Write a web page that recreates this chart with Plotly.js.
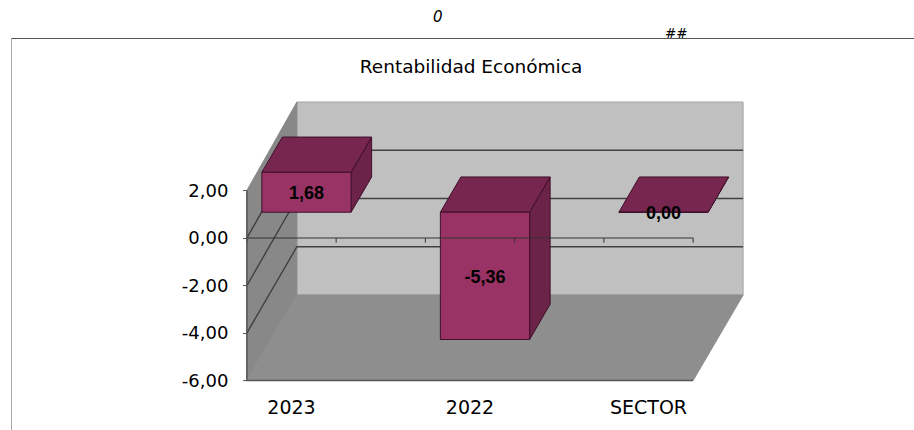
<!DOCTYPE html>
<html><head><meta charset="utf-8">
<script src="https://cdn.plot.ly/plotly-3.0.1.min.js"></script>
<style>html,body{margin:0;padding:0;background:#fff}#c{width:914px;height:430px}</style>
</head><body><div id="c"></div>
<script>
const categories = ["2023", "2022", "SECTOR"];
const values = [1.68, -5.36, 0.00];
const valueLabels = ["1,68", "-5,36", "0,00"];
const yTicks = [-6, -4, -2, 0, 2];
const yTickLabels = ["-6,00", "-4,00", "-2,00", "0,00", "2,00"];
const gridValues = [-4, -2, 0];

// Oblique projection of the 3D box onto the category/value axes
const X0 = -0.25, X1 = 2.25, V0 = -6, V1 = 2;
const DX = 0.28, DV = 3.62, WALL_DV = 3.695, WALL_K = 0.0158;
const BAR_HALF = 0.25, BAR_D0 = 0.30, BAR_D1 = 0.71;
const P = (x, v, d) => [x + d * DX, v + d * DV];
const PW = (x, v, d) => [x + d * DX, v * (1 + d * WALL_K) + d * WALL_DV];
function poly(points) {
  const xs = [], ys = [];
  points.forEach(p => { xs.push(p[0]); ys.push(p[1]); });
  xs.push(points[0][0]); ys.push(points[0][1]);
  return [xs, ys];
}
function filled(polys, fill, line, w) {
  const x = [], y = [];
  polys.forEach((pl, i) => {
    const [a, b] = poly(pl);
    if (i) { x.push(null); y.push(null); }
    x.push(...a); y.push(...b);
  });
  return {type: "scatter", mode: "lines", x, y, fill: "toself", fillcolor: fill,
          line: {color: line, width: w === undefined ? 1 : w}, hoverinfo: "skip"};
}
function lines(segs, color, w) {
  const x = [], y = [];
  segs.forEach(s => {
    s.forEach(p => { x.push(p[0]); y.push(p[1]); });
    x.push(null); y.push(null);
  });
  return {type: "scatter", mode: "lines", x, y, line: {color, width: w}, hoverinfo: "skip"};
}

const traces = [];
// walls and floor
traces.push(filled([[PW(X0, V0, 1), PW(X1, V0, 1), PW(X1, V1, 1), PW(X0, V1, 1)]], "#c0c0c0", "#a6a6a6", 1));
traces.push(filled([[PW(X0, V0, 0), PW(X0, V0, 1), PW(X0, V1, 1), PW(X0, V1, 0)]], "#888888", "#888888", 1));
traces.push(filled([[PW(X0, V0, 0), PW(X1, V0, 0), PW(X1, V0, 1), PW(X0, V0, 1)]], "#8e8e8e", "#8e8e8e", 1));
// gridlines on left and back walls
traces.push(lines(gridValues.map(g => [PW(X0, g, 0), PW(X0, g, 1), PW(X1, g, 1)]), "#404040", 1.4));
// bars
const topFaces = [], sideFaces = [], frontFaces = [];
values.forEach((v, i) => {
  const a = i - BAR_HALF, b = i + BAR_HALF, hi = Math.max(v, 0), lo = Math.min(v, 0);
  topFaces.push([P(a, hi, BAR_D0), P(b, hi, BAR_D0), P(b, hi, BAR_D1), P(a, hi, BAR_D1)]);
  sideFaces.push([P(b, hi, BAR_D0), P(b, lo, BAR_D0), P(b, lo, BAR_D1), P(b, hi, BAR_D1)]);
  frontFaces.push([P(a, hi, BAR_D0), P(b, hi, BAR_D0), P(b, lo, BAR_D0), P(a, lo, BAR_D0)]);
});
traces.push(filled(sideFaces, "#6b2347", "#3f0f2b", 1));
traces.push(filled(topFaces, "#77274f", "#3f0f2b", 1));
traces.push(filled(frontFaces, "#993366", "#3f0f2b", 1));
// zero plane line with its ticks, front axes
const zeroTicks = [];
for (let t = X0; t <= X1 + 1e-6; t += 0.5) zeroTicks.push([[t, 0], [t, -0.2]]);
traces.push(lines([[[X0, 0], [X1, 0]]].concat(zeroTicks), "#333333", 1));
traces.push(lines([[PW(X0, V1, 0), PW(X0, V0, 0), PW(X1, V0, 0)]], "#555555", 1.5));
// value labels
traces.push({type: "scatter", mode: "text",
  x: values.map((v, i) => P(i, v / 2, BAR_D0)[0]),
  y: values.map((v, i) => P(i, v / 2, BAR_D0)[1] - 0.1),
  text: valueLabels, textposition: "middle center",
  textfont: {family: "Liberation Sans", size: 18, color: "#000", weight: 700},
  hoverinfo: "skip"});

const W = 914, H = 430;
const layout = {
  width: W, height: H, margin: {l: 0, r: 0, t: 0, b: 0},
  paper_bgcolor: "#fff", plot_bgcolor: "rgba(0,0,0,0)", showlegend: false,
  title: {text: "Rentabilidad Económica", x: 471 / W, y: 1 - 66.5 / H,
          xanchor: "center", yanchor: "middle", xref: "paper", yref: "paper",
          font: {family: "DejaVu Sans", size: 18.5, color: "#000"}},
  xaxis: {range: [-291.5 / 178.5, (W - 291.5) / 178.5], tickmode: "array",
          tickvals: categories.map((c, i) => i), ticktext: categories,
          showgrid: false, zeroline: false, showline: false, ticks: "", ticklabelstandoff: 13,
          anchor: "free", position: (H - 381) / H, fixedrange: true,
          tickfont: {family: "DejaVu Sans", size: 19, color: "#000"}},
  yaxis: {range: [-(H - 238) / 23.75, 238 / 23.75], tickmode: "array",
          tickvals: yTicks, ticktext: yTickLabels,
          showgrid: false, zeroline: false, showline: false, ticks: "outside", ticklen: 4,
          tickcolor: "#555", ticklabelstandoff: 11,
          anchor: "free", position: 247 / W, fixedrange: true,
          tickfont: {family: "DejaVu Sans", size: 18, color: "#000"}},
  shapes: [
    {type: "line", xref: "paper", yref: "paper", x0: 11 / W, x1: 1, y0: 1 - 38.5 / H, y1: 1 - 38.5 / H, line: {color: "#555", width: 1.2}},
    {type: "line", xref: "paper", yref: "paper", x0: 11.5 / W, x1: 11.5 / W, y0: 1 - 38.5 / H, y1: 0, line: {color: "#aaa", width: 1}}
  ],
  annotations: [
    {text: "<i>0</i>", xref: "paper", yref: "paper", x: 437.5 / W, y: 1 - 17 / H, showarrow: false,
     xanchor: "center", yanchor: "middle",
     font: {family: "DejaVu Sans", size: 15, color: "#000"}},
    {text: "<i>##</i>", xref: "paper", yref: "paper", x: 676.5 / W, y: 1 - 33.5 / H, showarrow: false,
     xanchor: "center", yanchor: "middle",
     font: {family: "DejaVu Sans", size: 13.5, color: "#000"}}
  ]
};
Plotly.newPlot("c", traces, layout, {displayModeBar: false, staticPlot: true});
</script></body></html>
